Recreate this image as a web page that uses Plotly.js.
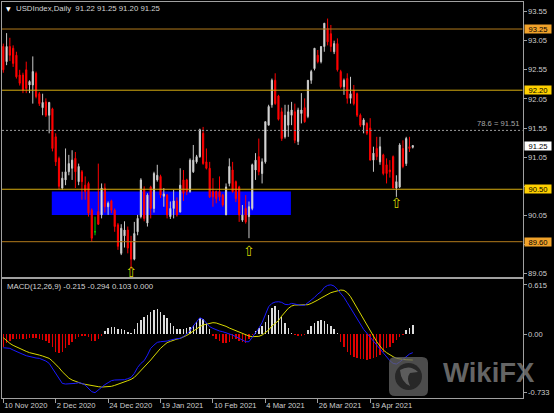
<!DOCTYPE html>
<html><head><meta charset="utf-8">
<script src="https://cdn.plot.ly/plotly-3.0.1.min.js"></script>
<style>html,body{margin:0;padding:0;background:#000;}#chart{width:554px;height:413px;}</style>
</head><body><div id="chart"></div>
<script>
// ---------- data (daily bars, 10 Nov 2020 .. 6 May 2021) ----------
const open = [92.95,92.69,92.95,92.92,92.80,92.46,92.46,92.55,92.29,92.29,
92.49,92.14,91.90,92.00,91.77,91.88,91.40,91.03,90.52,90.66,
90.80,90.86,91.03,90.63,90.80,90.57,90.60,90.14,89.77,90.12,
90.06,90.52,90.20,90.30,90.14,89.89,89.40,89.70,89.80,89.60,
89.30,89.77,90.03,90.50,89.92,90.54,90.17,90.66,90.72,90.38,
90.40,90.03,90.17,90.30,90.11,90.66,90.66,90.46,90.80,90.97,
91.06,91.46,90.97,90.86,90.46,90.46,90.46,90.40,90.06,90.60,
90.83,90.63,90.54,89.97,90.17,90.03,90.17,90.83,91.06,90.77,
90.97,91.60,91.95,92.37,92.10,91.83,91.40,91.60,91.77,91.83,
91.32,91.80,91.90,91.75,92.37,92.57,92.80,92.69,92.95,93.26,
93.17,92.86,93.00,92.52,92.26,92.40,92.06,92.20,92.14,91.77,
91.60,91.63,91.55,91.00,91.20,90.97,91.09,90.92,90.83,91.06,
90.52,90.54,91.20,90.94,91.23,91.22];
const high = [93.00,93.18,93.10,92.97,92.86,92.55,92.50,92.69,92.37,92.78,
92.52,92.17,92.14,92.06,92.00,91.90,91.46,91.06,90.80,91.20,
91.09,91.17,91.14,90.94,90.83,90.72,90.63,90.17,90.03,90.94,
90.60,90.60,90.29,90.32,90.17,89.92,89.90,89.95,89.86,89.70,
89.94,90.06,90.69,90.55,90.43,90.56,90.80,90.92,90.75,90.52,
90.42,90.29,90.49,90.36,90.86,90.83,90.68,91.03,91.26,91.09,
91.54,91.57,91.20,90.97,90.69,90.48,90.72,90.42,90.60,91.03,
90.97,90.65,90.56,90.23,90.40,90.29,90.94,91.12,91.37,91.03,
91.66,91.95,92.40,92.49,92.12,91.90,91.95,91.95,92.00,91.97,
91.90,92.15,92.06,92.37,92.55,92.92,92.89,92.95,93.35,93.43,
93.32,93.05,93.09,92.55,92.40,92.49,92.43,92.29,92.16,91.80,
91.72,91.65,91.72,91.23,91.40,91.40,91.11,91.03,91.00,91.08,
90.74,91.29,91.34,91.40,91.40,91.25];
const low = [92.50,92.63,92.70,92.60,92.40,92.28,92.15,92.15,92.15,91.97,
92.06,91.93,91.77,91.74,91.46,91.15,90.90,90.50,90.49,90.57,
90.74,90.66,90.52,90.57,90.32,90.32,90.03,89.60,89.71,89.89,
90.00,90.10,90.06,90.09,89.77,89.46,89.37,89.50,89.40,89.13,
89.28,89.71,90.00,89.95,89.86,90.00,90.10,90.63,90.35,90.20,
90.00,89.99,90.00,90.03,90.10,90.30,90.40,90.44,90.78,90.94,
91.04,90.92,90.84,90.35,90.20,90.26,90.30,90.20,90.06,90.55,
90.44,90.28,89.94,89.94,89.91,89.66,90.14,90.66,90.74,90.60,
90.94,91.60,91.90,91.95,91.68,91.33,91.37,91.40,91.60,91.29,
91.26,91.63,91.64,91.72,92.31,92.54,92.66,92.66,92.86,92.97,
92.86,92.82,92.52,92.23,92.12,91.97,91.97,91.94,91.74,91.57,
91.46,91.43,91.00,90.80,91.00,90.92,90.74,90.60,90.70,90.52,
90.37,90.52,90.86,90.90,91.14,91.20];
const close = [92.55,92.95,92.80,92.66,92.43,92.32,92.20,92.23,92.35,92.52,
92.09,91.97,91.99,91.77,91.99,91.20,90.97,90.55,90.69,90.80,
90.94,91.00,90.80,90.89,90.63,90.46,90.09,89.66,89.77,89.90,
90.52,90.20,90.26,90.14,89.86,89.52,89.83,89.80,89.49,89.30,
89.74,90.00,90.66,90.00,90.40,90.17,90.77,90.74,90.40,90.42,
90.06,90.17,90.30,90.06,90.57,90.43,90.46,91.00,91.00,91.06,
91.52,90.94,90.86,90.37,90.37,90.34,90.37,90.23,90.54,90.89,
90.46,90.34,90.06,90.06,89.94,90.20,90.92,91.00,90.80,90.97,
91.66,91.92,92.37,91.97,91.70,91.37,91.77,91.83,91.86,91.34,
91.86,91.86,91.66,92.37,92.52,92.92,92.69,92.95,93.35,93.03,
92.95,93.00,92.55,92.26,92.37,92.06,92.14,91.97,91.77,91.60,
91.69,91.46,91.00,91.12,91.06,91.23,90.77,90.77,90.80,90.52,
90.63,91.26,90.89,91.37,91.20,91.25];

const macdMain = [-0.171,-0.175,-0.179,-0.200,-0.221,-0.242,-0.254,-0.271,-0.283,-0.292,
-0.300,-0.304,-0.317,-0.338,-0.367,-0.429,-0.492,-0.567,-0.617,-0.625,
-0.625,-0.621,-0.617,-0.608,-0.617,-0.638,-0.679,-0.721,-0.733,-0.700,
-0.658,-0.633,-0.608,-0.583,-0.575,-0.575,-0.575,-0.571,-0.558,-0.542,
-0.492,-0.417,-0.367,-0.333,-0.263,-0.179,-0.138,-0.104,-0.096,-0.096,
-0.088,-0.075,-0.063,-0.058,-0.054,-0.033,0.000,0.042,0.100,0.154,
0.204,0.183,0.133,0.092,0.071,0.050,0.038,0.029,0.017,0.008,
-0.013,-0.033,-0.054,-0.075,-0.096,-0.096,-0.042,0.008,0.071,0.142,
0.238,0.342,0.383,0.400,0.404,0.396,0.371,0.367,0.383,0.375,
0.358,0.358,0.360,0.392,0.433,0.458,0.500,0.529,0.583,0.608,
0.615,0.600,0.558,0.508,0.458,0.392,0.321,0.258,0.196,0.125,
0.058,0.008,-0.033,-0.083,-0.138,-0.192,-0.242,-0.292,-0.333,-0.367,
-0.375,-0.350,-0.317,-0.292,-0.250,-0.233];
const macdSignal = [-0.046,-0.083,-0.117,-0.142,-0.163,-0.179,-0.200,-0.217,-0.233,-0.246,
-0.254,-0.263,-0.275,-0.288,-0.304,-0.338,-0.375,-0.421,-0.471,-0.513,
-0.550,-0.575,-0.592,-0.608,-0.621,-0.629,-0.638,-0.646,-0.654,-0.658,
-0.663,-0.663,-0.658,-0.654,-0.642,-0.629,-0.617,-0.604,-0.583,-0.567,
-0.542,-0.500,-0.458,-0.417,-0.375,-0.325,-0.275,-0.221,-0.179,-0.142,
-0.108,-0.092,-0.075,-0.063,-0.054,-0.038,-0.017,0.008,0.038,0.067,
0.092,0.113,0.125,0.138,0.142,0.138,0.125,0.113,0.096,0.075,
0.058,0.042,0.025,0.008,-0.008,-0.025,-0.033,-0.033,-0.029,-0.013,
0.013,0.050,0.100,0.133,0.167,0.225,0.279,0.321,0.350,0.363,
0.363,0.363,0.363,0.367,0.383,0.400,0.425,0.450,0.475,0.500,
0.517,0.529,0.542,0.550,0.546,0.517,0.467,0.396,0.321,0.250,
0.175,0.100,0.029,-0.033,-0.096,-0.150,-0.200,-0.233,-0.263,-0.283,
-0.304,-0.313,-0.317,-0.321,-0.325,-0.325];
const macdHist = [-0.167,-0.108,-0.083,-0.067,-0.058,-0.058,-0.067,-0.058,-0.054,-0.046,
-0.046,-0.058,-0.075,-0.092,-0.108,-0.167,-0.221,-0.242,-0.225,-0.179,
-0.138,-0.096,-0.067,-0.042,-0.025,-0.025,-0.042,-0.083,-0.092,-0.058,
-0.025,0.042,0.071,0.092,0.083,0.067,0.058,0.050,0.025,0.008,
0.058,0.133,0.175,0.208,0.238,0.279,0.300,0.308,0.279,0.238,
0.196,0.142,0.100,0.067,0.058,0.067,0.075,0.092,0.113,0.154,
0.196,0.183,0.133,0.058,-0.025,-0.058,-0.083,-0.108,-0.117,-0.096,
-0.067,-0.067,-0.083,-0.100,-0.108,-0.067,-0.013,0.042,0.075,0.100,
0.154,0.238,0.321,0.350,0.300,0.217,0.133,0.071,0.008,-0.017,
-0.021,-0.021,-0.013,0.050,0.100,0.142,0.163,0.175,0.163,0.125,
0.100,0.067,0.017,-0.096,-0.158,-0.221,-0.263,-0.292,-0.304,-0.317,
-0.317,-0.325,-0.317,-0.304,-0.283,-0.263,-0.221,-0.179,-0.158,-0.117,
-0.075,-0.033,-0.008,0.050,0.075,0.113];

const dateTickBars = [0, 16, 32, 48, 64, 80, 96, 112];
const dateTickLabels = ['10 Nov 2020','2 Dec 2020','24 Dec 2020','19 Jan 2021','10 Feb 2021','4 Mar 2021','26 Mar 2021','19 Apr 2021'];
// 90.55 and 89.55 sit under the 90.50 / 89.60 level boxes in the reference: tick marks kept, labels hidden
const priceTicks = [89.05, 89.55, 90.05, 90.55, 91.05, 91.55, 92.05, 92.55, 93.05, 93.55];
const priceTickLabels = ['89.05', '', '90.05', '', '91.05', '91.55', '92.05', '92.55', '93.05', '93.55'];
const macdTicks = [0.615, 0, -0.733];
const macdTickLabels = ['0.615', '0.00', '-0.733'];

const levelPrices = [93.25, 92.20, 90.50, 89.60];
const levelKinds  = ['major', 'minor', 'minor', 'major'];
const fibPrice = 91.51;
const fibLabel = '78.6 = 91.51';
const lastPrice = 91.25;
const zoneStartBar = 14.8, zoneEndBar = 87.8, zoneLow = 90.06, zoneHigh = 90.46;
const arrowBars = [39, 75, 120];
const arrowPrices = [89.05, 89.41, 90.24];
const headerText = 'USDIndex,Daily\u00a0\u00a091.22 91.25 91.20 91.25';
const macdHeader = 'MACD(12,26,9) -0.215 -0.294 0.103 0.000';

// ---------- rendering ----------
const W = 554, H = 413;
const px = v => v / W, py = v => 1 - v / H;
const FONT = 'Liberation Sans, Arial, sans-serif';
const bars = open.map((_, i) => i);
const isDoji = bars.map(i => open[i] === close[i]);
const pick = (arr, keepDoji) => bars.filter(i => isDoji[i] === keepDoji).map(i => arr[i]);

const traces = [
  {type:'candlestick', xaxis:'x', yaxis:'y',
   x: pick(bars,false), open: pick(open,false), high: pick(high,false), low: pick(low,false), close: pick(close,false),
   increasing:{line:{color:'#c8c8c8', width:1}, fillcolor:'#ffffff'},
   decreasing:{line:{color:'#ff0000', width:1}, fillcolor:'#ff0000'},
   whiskerwidth:0, hoverinfo:'skip'},
  {type:'candlestick', xaxis:'x', yaxis:'y',
   x: pick(bars,true), open: pick(open,true), high: pick(high,true), low: pick(low,true), close: pick(close,true),
   increasing:{line:{color:'#00d000', width:1}, fillcolor:'#00d000'},
   decreasing:{line:{color:'#00d000', width:1}, fillcolor:'#00d000'},
   whiskerwidth:0, hoverinfo:'skip'},
  {type:'scatter', mode:'text', xaxis:'x', yaxis:'y', x: arrowBars, y: arrowPrices,
   text: arrowBars.map(() => '\u21e7'), textposition:'middle center',
   textfont:{family:'DejaVu Sans', size:14, color:'#d4d400'}, cliponaxis:false, hoverinfo:'skip'},
  {type:'bar', xaxis:'x2', yaxis:'y2', x: bars, y: macdHist, width:0.45,
   marker:{color: macdHist.map(v => v >= 0 ? '#dcdcdc' : '#e00000'), line:{width:0}}, hoverinfo:'skip'},
  {type:'scatter', mode:'lines', xaxis:'x2', yaxis:'y2', x: bars, y: macdSignal,
   line:{color:'#d8d800', width:1}, hoverinfo:'skip'},
  {type:'scatter', mode:'lines', xaxis:'x2', yaxis:'y2', x: bars, y: macdMain,
   line:{color:'#1a1aff', width:1}, hoverinfo:'skip'}
];

const frame = '#a0a0a0', tickFont = {family:FONT, size:7.6, color:'#cfcfcf'};
const xDom = [px(2), px(522.5)];
const xRange = [-0.4, 158.5];

const styleByKind = {major:{line:'#b27a1c', box:'#f0a22a'}, minor:{line:'#d6ac10', box:'#ffd000'}};

const shapes = [
  {type:'rect', xref:'x', yref:'y', x0:zoneStartBar, x1:zoneEndBar, y0:zoneLow, y1:zoneHigh,
   fillcolor:'#0000ff', line:{width:0}, layer:'below'},
  {type:'line', xref:'x domain', yref:'y', x0:0, x1:1, y0:fibPrice, y1:fibPrice,
   line:{color:'#9a9a9a', width:1, dash:'2px,2px'}}
];
levelPrices.forEach((p, k) => shapes.push({type:'line', xref:'x domain', yref:'y', x0:0, x1:1, y0:p, y1:p,
  line:{color: styleByKind[levelKinds[k]].line, width:1}}));

// watermark logo (rounded square + dark disc)
(function(){
  const x0 = px(389), x1 = px(428), y0 = py(396), y1 = py(357);
  const rx = 6 / W, ry = 6 / H;
  shapes.push({type:'path', xref:'paper', yref:'paper', layer:'above', opacity:0.75,
    path:`M${x0+rx},${y0} L${x1-rx},${y0} Q${x1},${y0} ${x1},${y0+ry} L${x1},${y1-ry} Q${x1},${y1} ${x1-rx},${y1} L${x0+rx},${y1} Q${x0},${y1} ${x0},${y1-ry} L${x0},${y0+ry} Q${x0},${y0} ${x0+rx},${y0} Z`,
    fillcolor:'#666666', line:{width:0}});
  shapes.push({type:'circle', xref:'paper', yref:'paper', layer:'above', opacity:0.8,
    x0:px(395), x1:px(422), y0:py(390), y1:py(363), fillcolor:'#1e1e1e', line:{width:0}});
  shapes.push({type:'path', xref:'paper', yref:'paper', layer:'above', opacity:0.8,
    path:`M${px(400)},${py(370)} Q${px(410)},${py(364)} ${px(418)},${py(372)} L${px(410)},${py(373)} Q${px(406)},${py(378)} ${px(410)},${py(386)} Q${px(401)},${py(382)} ${px(400)},${py(370)} Z`,
    fillcolor:'#6a6a6a', line:{width:0}});
})();

const annotations = [
  {xref:'paper', yref:'paper', x:px(8), y:py(8.5), xanchor:'center', yanchor:'middle', showarrow:false,
   text:'\u25bc', font:{family:'DejaVu Sans', size:6, color:'#ffffff'}},
  {xref:'paper', yref:'paper', x:px(14), y:py(8.5), xanchor:'left', yanchor:'middle', showarrow:false,
   text: headerText, font:{family:FONT, size:7.8, color:'#d4d4d4'}},
  {xref:'paper', yref:'paper', x:px(5), y:py(286), xanchor:'left', yanchor:'middle', showarrow:false,
   text: macdHeader, font:{family:FONT, size:7.8, color:'#d4d4d4'}},
  {xref:'paper', yref:'y', x:px(521), y:fibPrice, xanchor:'right', yanchor:'bottom', yshift:0, showarrow:false,
   text: fibLabel, font:{family:FONT, size:7.6, color:'#a8a8a8'}},
  {xref:'paper', yref:'y', x:px(523.5), y:lastPrice, xanchor:'left', yanchor:'middle', showarrow:false,
   text: lastPrice.toFixed(2), width:26, height:8, bgcolor:'#ffffff', borderpad:0,
   font:{family:FONT, size:7.6, color:'#000000'}},
  {xref:'paper', yref:'paper', x:px(489), y:py(372.5), xanchor:'center', yanchor:'middle', showarrow:false,
   text:'<b>WikiFX</b>', font:{family:FONT, size:27.5, color:'rgba(120,120,120,0.85)'}}
];
levelPrices.forEach((p, k) => annotations.push({xref:'paper', yref:'y', x:px(523.5), y:p,
  xanchor:'left', yanchor:'middle', showarrow:false, text:p.toFixed(2), width:26, height:8, borderpad:0,
  bgcolor: styleByKind[levelKinds[k]].box, font:{family:FONT, size:7.6, color:'#000000'}}));

const layout = {
  width:W, height:H, margin:{l:0, r:0, t:0, b:0},
  paper_bgcolor:'#000000', plot_bgcolor:'rgba(0,0,0,0)',
  showlegend:false, hovermode:false, boxgap:0.5, bargap:0,
  xaxis:{domain:xDom, range:xRange, anchor:'y', showgrid:false, zeroline:false, showticklabels:false,
    ticks:'', showline:true, mirror:true, linecolor:frame, linewidth:1, rangeslider:{visible:false}, fixedrange:true},
  yaxis:{domain:[py(277), py(2)], range:[88.994, 93.714], anchor:'x', side:'right', showgrid:false, zeroline:false,
    tickvals: priceTicks, ticktext: priceTickLabels, ticks:'outside', ticklen:3, tickcolor:frame,
    tickfont: tickFont, showline:true, mirror:true, linecolor:frame, linewidth:1, fixedrange:true},
  xaxis2:{domain:xDom, range:xRange, anchor:'y2', matches:'x', showgrid:false, zeroline:false,
    tickvals: dateTickBars, ticktext: dateTickLabels, ticks:'outside', ticklen:4, tickcolor:frame,
    ticklabelposition:'outside right', tickfont: tickFont, showline:true, mirror:true, linecolor:frame, linewidth:1,
    rangeslider:{visible:false}, fixedrange:true},
  yaxis2:{domain:[py(397.7), py(279)], range:[-0.796, 0.688], anchor:'x2', side:'right', showgrid:false, zeroline:false,
    tickvals: macdTicks, ticktext: macdTickLabels, ticks:'outside', ticklen:3, tickcolor:frame,
    tickfont: tickFont, showline:true, mirror:true, linecolor:frame, linewidth:1, fixedrange:true},
  shapes, annotations
};

Plotly.newPlot('chart', traces, layout, {displayModeBar:false, staticPlot:true});
</script>
</body></html>
